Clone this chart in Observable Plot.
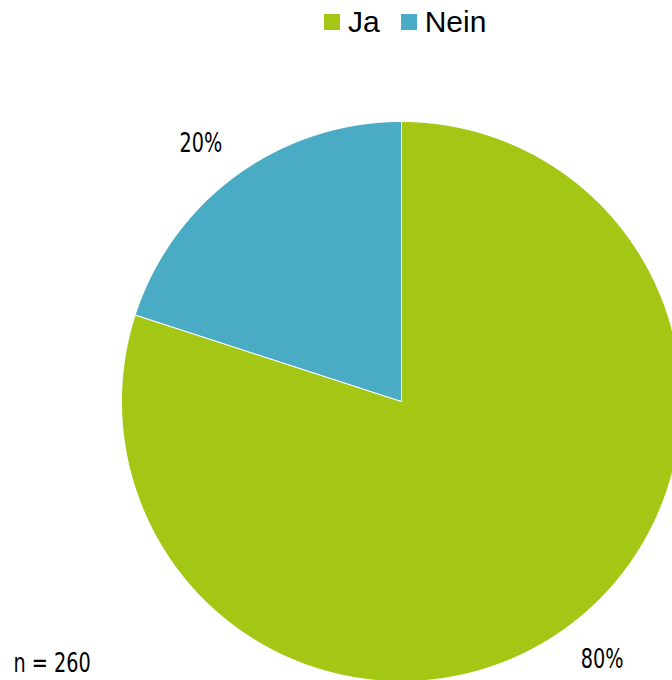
<!DOCTYPE html>
<html>
<head>
<meta charset="utf-8">
<script src="https://cdn.jsdelivr.net/npm/d3@7"></script>
<script src="https://cdn.jsdelivr.net/npm/@observablehq/plot@0.6"></script>
<style>
  html, body { margin: 0; padding: 0; background: #fff; overflow: hidden; }
  #legend { height: 50px; box-sizing: border-box; padding: 5px 0 0 324px; font-family: "Liberation Sans", Arial, sans-serif; font-size: 30px; color: #000; display: flex; align-items: flex-start; }
  #legend .item { display: inline-flex; align-items: center; margin-right: 21px; }
  #legend .sw { width: 16px; height: 16px; display: inline-block; margin-right: 8px; }
  #chart svg { display: block; }
</style>
</head>
<body>
<div id="legend"></div>
<div id="chart"></div>
<script>
const categories = ["Ja", "Nein"];
const values = [80, 20];
const colors = ["#A4C615", "#4AABC5"];
const sampleSize = "n = 260";

// legend
const legend = document.getElementById("legend");
categories.forEach((c, i) => {
  const item = document.createElement("span");
  item.className = "item";
  const sw = document.createElement("span");
  sw.className = "sw";
  sw.style.background = colors[i];
  item.appendChild(sw);
  item.appendChild(document.createTextNode(c));
  legend.appendChild(item);
});

const data = categories.map((c, i) => ({key: c, value: values[i]}));
const arcs = d3.pie().sort(null).value(d => d.value)(data);
const total = d3.sum(values);

// polygon points for each slice (unit radius, y up)
const pts = [];
for (const a of arcs) {
  const key = a.data.key;
  pts.push({key, x: 0, y: 0});
  const n = Math.max(2, Math.ceil((a.endAngle - a.startAngle) / 0.005));
  for (let k = 0; k <= n; k++) {
    const t = a.startAngle + (a.endAngle - a.startAngle) * k / n;
    pts.push({key, x: Math.sin(t), y: Math.cos(t)});
  }
  pts.push({key, x: 0, y: 0});
}

const labelR = 1.168, labelShift = -0.032;
const labels = arcs.map(a => {
  const m = (a.startAngle + a.endAngle) / 2 + labelShift;
  return {key: a.data.key, x: Math.sin(m) * labelR, y: Math.cos(m) * labelR, text: Math.round(a.data.value / total * 100) + "%"};
});

const W = 672, H = 630, R = 280, cx = 401, cy = 351;
const labelFont = "'DejaVu Sans', sans-serif";

const chart = Plot.plot({
  width: W,
  height: H,
  margin: 0,
  x: {domain: [-cx / R, (W - cx) / R], range: [0, W], axis: null},
  y: {domain: [-(H - cy) / R, cy / R], range: [H, 0], axis: null},
  color: {domain: categories, range: colors},
  style: {background: "#fff", overflow: "hidden"},
  marks: [
    Plot.line(pts, {x: "x", y: "y", z: "key", fill: "key", stroke: "#fff", strokeWidth: 1, curve: "linear"}),
    Plot.text(labels, {x: "x", y: "y", text: "text", fontSize: 26, fill: "#000", fontFamily: labelFont, lineAnchor: "middle"}),
    Plot.text([sampleSize], {text: d => d, frameAnchor: "bottom-left", textAnchor: "start", lineAnchor: "bottom", dx: 13, dy: -9, fontSize: 26, fill: "#000", fontFamily: labelFont})
  ]
});
document.getElementById("chart").appendChild(chart);

// condense label glyphs (the reference uses a narrow DIN-like face)
d3.select(chart).selectAll("g[aria-label='text'] text").each(function () {
  const len = this.getComputedTextLength();
  this.setAttribute("textLength", (len * 0.74).toFixed(1));
  this.setAttribute("lengthAdjust", "spacingAndGlyphs");
});
</script>
</body>
</html>
